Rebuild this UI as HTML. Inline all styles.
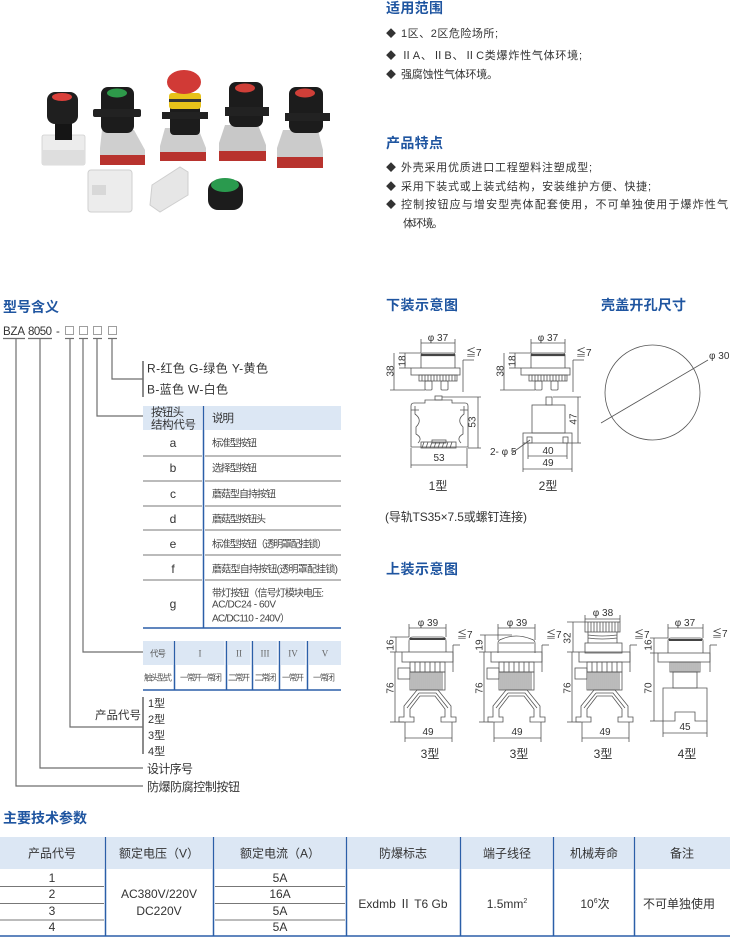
<!DOCTYPE html>
<html><head><meta charset="utf-8">
<style>
html,body{margin:0;padding:0;background:#fff;}
svg{display:block;}
text{font-family:"Liberation Sans","Noto Sans CJK SC",sans-serif;fill:#333;}
.h{font-size:14px;font-weight:bold;fill:#1f55a0;}
.b{font-size:11px;fill:#333;}
.dm{font-size:10px;fill:#333;}
.ds{font-size:10px;fill:#444;}
.sm{font-size:8.5px;fill:#555;}
.rn{font-family:"Liberation Serif",serif;font-size:9px;fill:#666;}
.ln{stroke:#555;stroke-width:0.8;fill:none;}
.tr{stroke:#6e6e6e;stroke-width:1.2;fill:none;}
.bl{stroke:#2b5fa8;stroke-width:1.5;}
.gl{stroke:#777;stroke-width:1;}
</style></head><body>
<svg width="730" height="937" viewBox="0 0 730 937" xmlns="http://www.w3.org/2000/svg">
<rect width="730" height="937" fill="#fff"/>

<!-- ===== Top right text ===== -->
<text x="386" y="13" class="h" textLength="57">适用范围</text>
<text x="386" y="37" font-size="10">◆</text><text x="401" y="37" class="b" textLength="97">1区、2区危险场所;</text>
<text x="386" y="59" font-size="10">◆</text><text x="401" y="59" class="b" textLength="181">ⅡA、ⅡB、ⅡC类爆炸性气体环境;</text>
<text x="386" y="78" font-size="10">◆</text><text x="401" y="78" class="b" textLength="97">强腐蚀性气体环境。</text>

<text x="386" y="148" class="h" textLength="57">产品特点</text>
<text x="386" y="171" font-size="10">◆</text><text x="401" y="171" class="b" textLength="191">外壳采用优质进口工程塑料注塑成型;</text>
<text x="386" y="190" font-size="10">◆</text><text x="401" y="190" class="b" textLength="250">采用下装式或上装式结构，安装维护方便、快捷;</text>
<text x="386" y="208" font-size="10">◆</text><text x="401" y="208" class="b" textLength="327">控制按钮应与增安型壳体配套使用，不可单独使用于爆炸性气</text>
<text x="403" y="227" class="b" textLength="40">体环境。</text>

<!-- ===== Product photos ===== -->
<g>
<!-- item1 -->
<rect x="42" y="135" width="43" height="30" rx="2" fill="#ececec" stroke="#d0d0d0" stroke-width="0.8"/>
<rect x="42" y="150" width="43" height="15" fill="#dedede"/>
<rect x="55" y="118" width="17" height="22" fill="#151515"/>
<rect x="47" y="92" width="31" height="32" rx="8" fill="#1f1f1f"/>
<ellipse cx="62" cy="97" rx="10" ry="4" fill="#d9403a"/>
<!-- item2 -->
<path d="M102,130 H134 L145,150 V164 H100 V148 Z" fill="#cfcfcf"/>
<rect x="100" y="155" width="45" height="10" fill="#b8332e"/>
<rect x="101" y="87" width="33" height="46" rx="7" fill="#1c1c1c"/>
<rect x="93" y="109" width="48" height="8" rx="2" fill="#222"/>
<ellipse cx="117" cy="93" rx="10" ry="4.5" fill="#2e9a4a"/>
<!-- item3 -->
<path d="M165,128 H198 L206,148 V160 H160 V146 Z" fill="#cdcdcd"/>
<rect x="160" y="152" width="46" height="9" fill="#b8332e"/>
<rect x="170" y="105" width="30" height="30" rx="4" fill="#1c1c1c"/>
<rect x="162" y="112" width="46" height="7" fill="#222"/>
<rect x="169" y="93" width="32" height="16" rx="3" fill="#e8c21a"/>
<rect x="169" y="99" width="32" height="3" fill="#333"/>
<ellipse cx="184" cy="82" rx="17" ry="12" fill="#d13a36"/>
<!-- item4 -->
<path d="M225,125 H258 L266,145 V160 H219 V143 Z" fill="#c8c8c8"/>
<rect x="219" y="151" width="47" height="10" fill="#b8332e"/>
<rect x="229" y="82" width="34" height="45" rx="7" fill="#1c1c1c"/>
<rect x="225" y="107" width="44" height="9" fill="#222"/>
<ellipse cx="245" cy="88" rx="10" ry="4.5" fill="#cf3f38"/>
<!-- item5 -->
<path d="M283,130 H318 L323,150 V168 H277 V148 Z" fill="#cbcbcb"/>
<rect x="277" y="157" width="46" height="11" fill="#b8332e"/>
<rect x="289" y="87" width="34" height="46" rx="7" fill="#1c1c1c"/>
<rect x="285" y="113" width="45" height="8" fill="#222"/>
<ellipse cx="305" cy="93" rx="10" ry="4.5" fill="#cf3f38"/>
<!-- item6 -->
<rect x="88" y="170" width="44" height="42" rx="3" fill="#ececec" stroke="#cfcfcf"/>
<rect x="92" y="185" width="14" height="10" fill="#d8d8d8"/>
<!-- item7 -->
<path d="M152,185 L180,167 L188,172 L188,195 L160,212 L150,205 Z" fill="#e6e6e6" stroke="#cfcfcf"/>
<!-- item8 -->
<rect x="208" y="180" width="35" height="30" rx="10" fill="#1c1c1c"/>
<ellipse cx="225" cy="185" rx="14" ry="7" fill="#2a9a4e"/>
</g>

<!-- ===== 型号含义 ===== -->
<text x="3" y="312" class="h" textLength="56">型号含义</text>
<text x="3" y="335" font-size="11.5" textLength="22">BZA</text>
<text x="28" y="335" font-size="11.5" textLength="24">8050</text>
<text x="56" y="335" font-size="11.5">-</text>
<g fill="none" stroke="#888" stroke-width="0.8">
<rect x="65.5" y="326.5" width="8" height="8"/>
<rect x="79.5" y="326.5" width="8" height="8"/>
<rect x="93.5" y="326.5" width="8" height="8"/>
<rect x="108.5" y="326.5" width="8" height="8"/>
</g>
<g class="tr">
<line x1="3" y1="338.5" x2="25" y2="338.5"/>
<line x1="28" y1="338.5" x2="52" y2="338.5"/>
<line x1="65" y1="338.5" x2="74" y2="338.5"/>
<line x1="79" y1="338.5" x2="88" y2="338.5"/>
<line x1="93" y1="338.5" x2="102" y2="338.5"/>
<line x1="108" y1="338.5" x2="117" y2="338.5"/>
<path d="M16,338.5 V786 H143"/>
<path d="M40,338.5 V768 H143"/>
<path d="M70,338.5 V727 H143"/>
<path d="M83,338.5 V652 H143"/>
<path d="M97,338.5 V416 H143"/>
<path d="M112,338.5 V379 H143"/>
<line x1="143" y1="361" x2="143" y2="397" stroke-width="1.6"/>
<line x1="143" y1="697" x2="143" y2="754" stroke-width="1.6"/>
</g>
<text x="147" y="372.5" font-size="12" textLength="121">R-红色  G-绿色  Y-黄色</text>
<text x="147" y="393.5" font-size="12" textLength="81">B-蓝色  W-白色</text>

<!-- table 1 -->
<rect x="143" y="406" width="59" height="24" fill="#dce7f4"/>
<rect x="205" y="406" width="136" height="24" fill="#dce7f4"/>
<g class="gl">
<line x1="143" y1="456" x2="202" y2="456"/><line x1="205" y1="456" x2="341" y2="456"/>
<line x1="143" y1="481" x2="202" y2="481"/><line x1="205" y1="481" x2="341" y2="481"/>
<line x1="143" y1="506" x2="202" y2="506"/><line x1="205" y1="506" x2="341" y2="506"/>
<line x1="143" y1="530" x2="202" y2="530"/><line x1="205" y1="530" x2="341" y2="530"/>
<line x1="143" y1="555" x2="202" y2="555"/><line x1="205" y1="555" x2="341" y2="555"/>
<line x1="143" y1="580" x2="202" y2="580"/><line x1="205" y1="580" x2="341" y2="580"/>
</g>
<line x1="203.5" y1="406" x2="203.5" y2="628" class="bl"/>
<line x1="143" y1="628" x2="341" y2="628" class="bl"/>
<text x="151" y="416" font-size="11.5" textLength="33">按钮头</text>
<text x="151" y="428.5" font-size="11.5" textLength="45">结构代号</text>
<text x="212" y="422" font-size="11.5" textLength="22">说明</text>
<g font-size="12" text-anchor="middle">
<text x="173" y="447">a</text>
<text x="173" y="472">b</text>
<text x="173" y="498">c</text>
<text x="173" y="523">d</text>
<text x="173" y="548">e</text>
<text x="173" y="573">f</text>
<text x="173" y="608">g</text>
</g>
<text x="212" y="446.5" class="ds" textLength="45">标准型按钮</text>
<text x="212" y="471.5" class="ds" textLength="45">选择型按钮</text>
<text x="212" y="497.5" class="ds" textLength="64">蘑菇型自持按钮</text>
<text x="212" y="522.5" class="ds" textLength="54">蘑菇型按钮头</text>
<text x="212" y="547.5" class="ds" textLength="115">标准型按钮（透明罩配挂锁）</text>
<text x="212" y="572.5" class="ds" textLength="126">蘑菇型自持按钮(透明罩配挂锁)</text>
<text x="212" y="596.5" class="ds" textLength="112">带灯按钮（信号灯模块电压:</text>
<text x="212" y="607.5" class="ds" textLength="64">AC/DC24 - 60V</text>
<text x="212" y="621.5" class="ds" textLength="78">AC/DC110 - 240V）</text>

<!-- table 2 -->
<g fill="#dce7f4">
<rect x="143" y="641" width="30" height="24"/>
<rect x="176" y="641" width="48.5" height="24"/>
<rect x="228" y="641" width="22.5" height="24"/>
<rect x="254" y="641" width="23.5" height="24"/>
<rect x="281" y="641" width="24.5" height="24"/>
<rect x="309" y="641" width="32" height="24"/>
</g>
<g class="bl">
<line x1="174.5" y1="641" x2="174.5" y2="690"/>
<line x1="226.5" y1="641" x2="226.5" y2="690"/>
<line x1="252.5" y1="641" x2="252.5" y2="690"/>
<line x1="279.5" y1="641" x2="279.5" y2="690"/>
<line x1="307.5" y1="641" x2="307.5" y2="690"/>
<line x1="143" y1="690" x2="341" y2="690"/>
</g>
<g text-anchor="middle">
<text x="158" y="656.5" class="sm" textLength="16">代号</text>
<text x="200" y="656.5" class="rn">I</text>
<text x="239" y="656.5" class="rn">II</text>
<text x="265" y="656.5" class="rn">III</text>
<text x="293" y="656.5" class="rn">IV</text>
<text x="325" y="656.5" class="rn">V</text>
<text x="158" y="680.5" class="sm" textLength="28">触头型式</text>
<text x="201" y="680.5" class="sm" textLength="42">一常开一常闭</text>
<text x="239" y="680.5" class="sm" textLength="22">二常开</text>
<text x="265.5" y="680.5" class="sm" textLength="22">二常闭</text>
<text x="293" y="680.5" class="sm" textLength="22">一常开</text>
<text x="324" y="680.5" class="sm" textLength="22">一常闭</text>
</g>

<text x="141" y="719" font-size="11.5" text-anchor="end" textLength="46">产品代号</text>
<text x="148" y="707" font-size="11">1型</text>
<text x="148" y="723" font-size="11">2型</text>
<text x="148" y="739" font-size="11">3型</text>
<text x="148" y="755" font-size="11">4型</text>
<text x="147" y="773" font-size="12" textLength="46">设计序号</text>
<text x="147" y="791" font-size="12" textLength="93">防爆防腐控制按钮</text>

<!-- ===== 下装示意图 ===== -->
<text x="386" y="310" class="h" textLength="72">下装示意图</text>
<text x="601" y="310" class="h" textLength="85">壳盖开孔尺寸</text>

<!-- top view 1型 -->
<g id="tv1">
<g class="ln">
<line x1="421" y1="343" x2="455" y2="343"/>
<line x1="421" y1="339" x2="421" y2="353"/>
<line x1="455" y1="339" x2="455" y2="353"/>
<path d="M421,368 V355 Q421,353 423,353 H453 Q455,353 455,355 V368"/>
<line x1="421" y1="355" x2="455" y2="355" stroke-width="2.2" stroke="#444"/>
<rect x="411" y="368" width="49" height="7"/>
<rect x="419" y="375" width="38" height="6"/>
<path d="M422,375 V381 M425,375 V381 M428,375 V381 M431,375 V381 M434,375 V381 M437,375 V381 M440,375 V381 M443,375 V381 M446,375 V381 M449,375 V381 M452,375 V381 M455,375 V381"/>
<rect x="425" y="381" width="7" height="9" rx="1"/>
<rect x="441" y="381" width="7" height="9" rx="1"/>
<line x1="405" y1="353" x2="405" y2="368"/>
<line x1="399" y1="353" x2="421" y2="353"/>
<line x1="399" y1="368" x2="411" y2="368"/>
<line x1="394" y1="353" x2="394" y2="390"/>
<line x1="390" y1="390" x2="425" y2="390"/>
<line x1="463" y1="360" x2="463" y2="392"/>
<line x1="463" y1="360" x2="474" y2="360"/>
</g>
<text x="438" y="341" class="dm" text-anchor="middle">φ 37</text>
<text transform="translate(402,361) rotate(-90)" x="0" y="3.5" class="dm" text-anchor="middle">18</text>
<text transform="translate(390,371) rotate(-90)" x="0" y="3.5" class="dm" text-anchor="middle">38</text>
<text x="466" y="356" class="dm">≦7</text>
</g>
<!-- top view 2型 -->
<g transform="translate(110,0)">
<g class="ln">
<line x1="421" y1="343" x2="455" y2="343"/>
<line x1="421" y1="339" x2="421" y2="353"/>
<line x1="455" y1="339" x2="455" y2="353"/>
<path d="M421,368 V355 Q421,353 423,353 H453 Q455,353 455,355 V368"/>
<line x1="421" y1="355" x2="455" y2="355" stroke-width="2.2" stroke="#444"/>
<rect x="411" y="368" width="49" height="7"/>
<rect x="419" y="375" width="38" height="6"/>
<path d="M422,375 V381 M425,375 V381 M428,375 V381 M431,375 V381 M434,375 V381 M437,375 V381 M440,375 V381 M443,375 V381 M446,375 V381 M449,375 V381 M452,375 V381 M455,375 V381"/>
<rect x="425" y="381" width="7" height="9" rx="1"/>
<rect x="441" y="381" width="7" height="9" rx="1"/>
<line x1="405" y1="353" x2="405" y2="368"/>
<line x1="399" y1="353" x2="421" y2="353"/>
<line x1="399" y1="368" x2="411" y2="368"/>
<line x1="394" y1="353" x2="394" y2="390"/>
<line x1="390" y1="390" x2="425" y2="390"/>
<line x1="463" y1="360" x2="463" y2="392"/>
<line x1="463" y1="360" x2="474" y2="360"/>
</g>
<text x="438" y="341" class="dm" text-anchor="middle">φ 37</text>
<text transform="translate(402,361) rotate(-90)" x="0" y="3.5" class="dm" text-anchor="middle">18</text>
<text transform="translate(390,371) rotate(-90)" x="0" y="3.5" class="dm" text-anchor="middle">38</text>
<text x="466" y="356" class="dm">≦7</text>
</g>

<!-- side view 1型 -->
<g class="ln">
<path d="M411,447 V406 Q411,403 414,403 H425 V400 H452 V403 H465 Q468,403 468,406 V447 Z"/>
<path d="M415,406 V414 Q423,420 416,427 V434 Q423,438 418,443"/>
<path d="M464,406 V414 Q456,420 463,427 V434 Q456,438 461,443"/>
<path d="M411,410 H419 M460,410 H468"/>
<rect x="435" y="396" width="7" height="4"/>
<rect x="421" y="442" width="35" height="6"/>
<path d="M424,442 L422,448 M428,442 L426,448 M432,442 L430,448 M436,442 L434,448 M440,442 L438,448 M444,442 L442,448 M448,442 L446,448 M452,442 L450,448"/>
<rect x="432" y="440" width="14" height="3"/>
<line x1="478" y1="397" x2="478" y2="448"/>
<line x1="442" y1="397" x2="481" y2="397"/>
<line x1="468" y1="448" x2="481" y2="448"/>
<line x1="411" y1="465" x2="467" y2="465"/>
<line x1="411" y1="448" x2="411" y2="468"/>
<line x1="467" y1="448" x2="467" y2="468"/>
</g>
<text transform="translate(472,422) rotate(-90)" x="0" y="3.5" class="dm" text-anchor="middle">53</text>
<text x="439" y="461" class="dm" text-anchor="middle">53</text>
<text x="438" y="490" font-size="12" text-anchor="middle">1型</text>

<!-- side view 2型 -->
<g class="ln">
<rect x="546" y="397" width="6" height="8"/>
<rect x="532" y="405" width="33" height="28"/>
<rect x="523" y="433" width="49" height="10"/>
<rect x="527" y="437" width="5" height="6"/>
<rect x="563" y="437" width="5" height="6"/>
<line x1="578" y1="397" x2="578" y2="443"/>
<line x1="553" y1="397" x2="581" y2="397"/>
<line x1="572" y1="443" x2="581" y2="443"/>
<line x1="528" y1="456" x2="567" y2="456"/>
<line x1="528" y1="443" x2="528" y2="459"/>
<line x1="567" y1="443" x2="567" y2="459"/>
<line x1="523" y1="469" x2="572" y2="469"/>
<line x1="523" y1="443" x2="523" y2="472"/>
<line x1="572" y1="443" x2="572" y2="472"/>
<line x1="512" y1="453" x2="530" y2="440"/>
</g>
<text transform="translate(573,419) rotate(-90)" x="0" y="3.5" class="dm" text-anchor="middle">47</text>
<text x="548" y="454" class="dm" text-anchor="middle">40</text>
<text x="548" y="466" class="dm" text-anchor="middle">49</text>
<text x="490" y="455" class="dm">2- φ 5</text>
<text x="548" y="490" font-size="12" text-anchor="middle">2型</text>

<!-- circle -->
<circle cx="652.5" cy="392.5" r="47.5" class="ln"/>
<line x1="601" y1="423" x2="708" y2="360" class="ln"/>
<text x="709" y="359" class="dm">φ 30</text>

<text x="385" y="521" font-size="12" textLength="142">(导轨TS35×7.5或螺钉连接)</text>

<!-- ===== 上装示意图 ===== -->
<text x="386" y="574" class="h" textLength="72">上装示意图</text>

<!-- shared 3型 body at offsets 0, 89, 177 -->
<g id="b3">
<g class="ln">
<rect x="402" y="652" width="51" height="10"/>
<rect x="410" y="662" width="35" height="10"/>
<path d="M415,662 V672 M420,662 V672 M425,662 V672 M430,662 V672 M435,662 V672 M440,662 V672"/>
<rect x="410" y="672" width="35" height="18"/>
<path d="M412,672 V690 M414,672 V690 M416,672 V690 M418,672 V690 M420,672 V690 M422,672 V690 M424,672 V690 M426,672 V690 M428,672 V690 M430,672 V690 M432,672 V690 M434,672 V690 M436,672 V690 M438,672 V690 M440,672 V690 M442,672 V690"/>
<rect x="398" y="668" width="12" height="11"/>
<path d="M417,690 H438 L451,706 V717 H456 V722 H441 V717 H445 V709 L435,696 H420 L410,709 V717 H414 V722 H399 V717 H404 V706 Z"/>
<path d="M419,693 H436 L448,708 M419,693 L407,708"/>
<line x1="395" y1="652" x2="395" y2="722"/>
<line x1="390" y1="652" x2="402" y2="652"/>
<line x1="390" y1="722" x2="404" y2="722"/>
<line x1="405" y1="738" x2="452" y2="738"/>
<line x1="405" y1="722" x2="405" y2="742"/>
<line x1="452" y1="722" x2="452" y2="742"/>
<line x1="453" y1="645" x2="453" y2="672"/>
<line x1="453" y1="645" x2="460" y2="645"/>
</g>
<text transform="translate(390,688) rotate(-90)" x="0" y="3.5" class="dm" text-anchor="middle">76</text>
<text x="428" y="735" class="dm" text-anchor="middle">49</text>
<text x="457" y="638" class="dm">≦7</text>
<text x="430" y="758" font-size="12" text-anchor="middle">3型</text>
</g>
<g transform="translate(89,0)">
<g class="ln">
<rect x="402" y="652" width="51" height="10"/>
<rect x="410" y="662" width="35" height="10"/>
<path d="M415,662 V672 M420,662 V672 M425,662 V672 M430,662 V672 M435,662 V672 M440,662 V672"/>
<rect x="410" y="672" width="35" height="18"/>
<path d="M412,672 V690 M414,672 V690 M416,672 V690 M418,672 V690 M420,672 V690 M422,672 V690 M424,672 V690 M426,672 V690 M428,672 V690 M430,672 V690 M432,672 V690 M434,672 V690 M436,672 V690 M438,672 V690 M440,672 V690 M442,672 V690"/>
<rect x="398" y="668" width="12" height="11"/>
<path d="M417,690 H438 L451,706 V717 H456 V722 H441 V717 H445 V709 L435,696 H420 L410,709 V717 H414 V722 H399 V717 H404 V706 Z"/>
<path d="M419,693 H436 L448,708 M419,693 L407,708"/>
<line x1="395" y1="652" x2="395" y2="722"/>
<line x1="390" y1="652" x2="402" y2="652"/>
<line x1="390" y1="722" x2="404" y2="722"/>
<line x1="405" y1="738" x2="452" y2="738"/>
<line x1="405" y1="722" x2="405" y2="742"/>
<line x1="452" y1="722" x2="452" y2="742"/>
<line x1="453" y1="645" x2="453" y2="672"/>
<line x1="453" y1="645" x2="460" y2="645"/>
</g>
<text transform="translate(390,688) rotate(-90)" x="0" y="3.5" class="dm" text-anchor="middle">76</text>
<text x="428" y="735" class="dm" text-anchor="middle">49</text>
<text x="457" y="638" class="dm">≦7</text>
<text x="430" y="758" font-size="12" text-anchor="middle">3型</text>
</g>
<g transform="translate(177,0)">
<g class="ln">
<rect x="402" y="652" width="51" height="10"/>
<rect x="410" y="662" width="35" height="10"/>
<path d="M415,662 V672 M420,662 V672 M425,662 V672 M430,662 V672 M435,662 V672 M440,662 V672"/>
<rect x="410" y="672" width="35" height="18"/>
<path d="M412,672 V690 M414,672 V690 M416,672 V690 M418,672 V690 M420,672 V690 M422,672 V690 M424,672 V690 M426,672 V690 M428,672 V690 M430,672 V690 M432,672 V690 M434,672 V690 M436,672 V690 M438,672 V690 M440,672 V690 M442,672 V690"/>
<rect x="398" y="668" width="12" height="11"/>
<path d="M417,690 H438 L451,706 V717 H456 V722 H441 V717 H445 V709 L435,696 H420 L410,709 V717 H414 V722 H399 V717 H404 V706 Z"/>
<path d="M419,693 H436 L448,708 M419,693 L407,708"/>
<line x1="395" y1="652" x2="395" y2="722"/>
<line x1="390" y1="652" x2="402" y2="652"/>
<line x1="390" y1="722" x2="404" y2="722"/>
<line x1="405" y1="738" x2="452" y2="738"/>
<line x1="405" y1="722" x2="405" y2="742"/>
<line x1="452" y1="722" x2="452" y2="742"/>
<line x1="453" y1="645" x2="453" y2="672"/>
<line x1="453" y1="645" x2="460" y2="645"/>
</g>
<text transform="translate(390,688) rotate(-90)" x="0" y="3.5" class="dm" text-anchor="middle">76</text>
<text x="428" y="735" class="dm" text-anchor="middle">49</text>
<text x="457" y="638" class="dm">≦7</text>
<text x="426" y="758" font-size="12" text-anchor="middle">3型</text>
</g>

<!-- cap A -->
<g class="ln">
<path d="M409,652 V641 Q409,637 413,637 H442 Q446,637 446,641 V652"/>
<line x1="410" y1="639" x2="445" y2="639" stroke-width="2" stroke="#444"/>
<line x1="409" y1="628" x2="446" y2="628"/>
<line x1="409" y1="624" x2="409" y2="637"/>
<line x1="446" y1="624" x2="446" y2="637"/>
<line x1="396" y1="637" x2="396" y2="652"/>
<line x1="390" y1="637" x2="409" y2="637"/>
</g>
<text x="428" y="626" class="dm" text-anchor="middle">φ 39</text>
<text transform="translate(390,645) rotate(-90)" x="0" y="3.5" class="dm" text-anchor="middle">16</text>

<!-- cap B (dome) -->
<g class="ln">
<path d="M498,653 V643 Q498,640 502,639 Q516,633 531,639 Q535,640 535,643 V653"/>
<line x1="499" y1="643" x2="534" y2="643"/>
<line x1="498" y1="628" x2="535" y2="628"/>
<line x1="498" y1="624" x2="498" y2="640"/>
<line x1="535" y1="624" x2="535" y2="640"/>
<line x1="485" y1="635" x2="485" y2="652"/>
<line x1="480" y1="635" x2="512" y2="635"/>
</g>
<text x="517" y="626" class="dm" text-anchor="middle">φ 39</text>
<text transform="translate(479,645) rotate(-90)" x="0" y="3.5" class="dm" text-anchor="middle">19</text>

<!-- cap C (mushroom knurled) -->
<g class="ln">
<rect x="585" y="622" width="35" height="10"/>
<path d="M588,622 V632 M591,622 V632 M594,622 V632 M597,622 V632 M600,622 V632 M603,622 V632 M606,622 V632 M609,622 V632 M612,622 V632 M615,622 V632 M618,622 V632"/>
<path d="M588,632 V643 M617,632 V643 M588,635 Q602,637 617,635 M588,638 Q602,640 617,638"/>
<rect x="585" y="643" width="37" height="10"/>
<line x1="585" y1="619" x2="620" y2="619"/>
<line x1="585" y1="615" x2="585" y2="622"/>
<line x1="620" y1="615" x2="620" y2="622"/>
<line x1="573" y1="622" x2="573" y2="652"/>
<line x1="567" y1="622" x2="585" y2="622"/>
</g>
<text x="603" y="616" class="dm" text-anchor="middle">φ 38</text>
<text transform="translate(567,638) rotate(-90)" x="0" y="3.5" class="dm" text-anchor="middle">32</text>

<!-- D 4型 -->
<g class="ln">
<path d="M668,653 V641 Q668,638 671,638 H700 Q703,638 703,641 V653"/>
<line x1="669" y1="640" x2="702" y2="640" stroke-width="2" stroke="#444"/>
<rect x="658" y="653" width="52" height="9"/>
<rect x="670" y="662" width="30" height="10"/>
<path d="M672,662 V672 M674,662 V672 M676,662 V672 M678,662 V672 M680,662 V672 M682,662 V672 M684,662 V672 M686,662 V672 M688,662 V672 M690,662 V672 M692,662 V672 M694,662 V672 M696,662 V672 M698,662 V672"/>
<rect x="673" y="672" width="24" height="16"/>
<path d="M663,688 H707 V721 H695 V712 H675 V721 H663 Z"/>
<line x1="668" y1="628" x2="703" y2="628"/>
<line x1="668" y1="624" x2="668" y2="638"/>
<line x1="703" y1="624" x2="703" y2="638"/>
<line x1="654" y1="638" x2="654" y2="721"/>
<line x1="650" y1="638" x2="668" y2="638"/>
<line x1="650" y1="653" x2="658" y2="653"/>
<line x1="650" y1="721" x2="663" y2="721"/>
<line x1="663" y1="733" x2="707" y2="733"/>
<line x1="663" y1="721" x2="663" y2="737"/>
<line x1="707" y1="721" x2="707" y2="737"/>
<line x1="710" y1="645" x2="710" y2="672"/>
<line x1="710" y1="645" x2="717" y2="645"/>
</g>
<text x="685" y="626" class="dm" text-anchor="middle">φ 37</text>
<text transform="translate(648,645) rotate(-90)" x="0" y="3.5" class="dm" text-anchor="middle">16</text>
<text transform="translate(648,688) rotate(-90)" x="0" y="3.5" class="dm" text-anchor="middle">70</text>
<text x="685" y="730" class="dm" text-anchor="middle">45</text>
<text x="712" y="637" class="dm">≦7</text>
<text x="687" y="758" font-size="12" text-anchor="middle">4型</text>

<!-- ===== 主要技术参数 ===== -->
<text x="3" y="823" class="h" textLength="84">主要技术参数</text>
<g fill="#dce7f4">
<rect x="0" y="837" width="104" height="32"/>
<rect x="107" y="837" width="105" height="32"/>
<rect x="215" y="837" width="130" height="32"/>
<rect x="348" y="837" width="111" height="32"/>
<rect x="462" y="837" width="90" height="32"/>
<rect x="555" y="837" width="78" height="32"/>
<rect x="636" y="837" width="94" height="32"/>
</g>
<g class="gl">
<line x1="0" y1="886.5" x2="104" y2="886.5"/><line x1="215" y1="886.5" x2="345" y2="886.5"/>
<line x1="0" y1="903.5" x2="104" y2="903.5"/><line x1="215" y1="903.5" x2="345" y2="903.5"/>
<line x1="0" y1="920" x2="104" y2="920"/><line x1="215" y1="920" x2="345" y2="920"/>
</g>
<g class="bl">
<line x1="105.5" y1="837" x2="105.5" y2="936"/>
<line x1="213.5" y1="837" x2="213.5" y2="936"/>
<line x1="346.5" y1="837" x2="346.5" y2="936"/>
<line x1="460.5" y1="837" x2="460.5" y2="936"/>
<line x1="553.5" y1="837" x2="553.5" y2="936"/>
<line x1="634.5" y1="837" x2="634.5" y2="936"/>
<line x1="0" y1="936" x2="730" y2="936"/>
</g>
<g font-size="12" text-anchor="middle">
<text x="52" y="857.5">产品代号</text>
<text x="159" y="857.5">额定电压（V）</text>
<text x="280" y="857.5">额定电流（A）</text>
<text x="403" y="857.5">防爆标志</text>
<text x="507" y="857.5">端子线径</text>
<text x="594" y="857.5">机械寿命</text>
<text x="682" y="857.5">备注</text>
<text x="52" y="882">1</text>
<text x="52" y="898">2</text>
<text x="52" y="915">3</text>
<text x="52" y="931">4</text>
<text x="159" y="898">AC380V/220V</text>
<text x="159" y="915">DC220V</text>
<text x="280" y="882">5A</text>
<text x="280" y="898">16A</text>
<text x="280" y="915">5A</text>
<text x="280" y="931">5A</text>
<text x="403" y="908">Exdmb Ⅱ T6 Gb</text>
<text x="507" y="908">1.5mm<tspan font-size="7" dy="-5">2</tspan></text>
<text x="595" y="908">10<tspan font-size="7" dy="-5">6</tspan><tspan dy="5">次</tspan></text>
<text x="679" y="908">不可单独使用</text>
</g>
</svg>
</body></html>
